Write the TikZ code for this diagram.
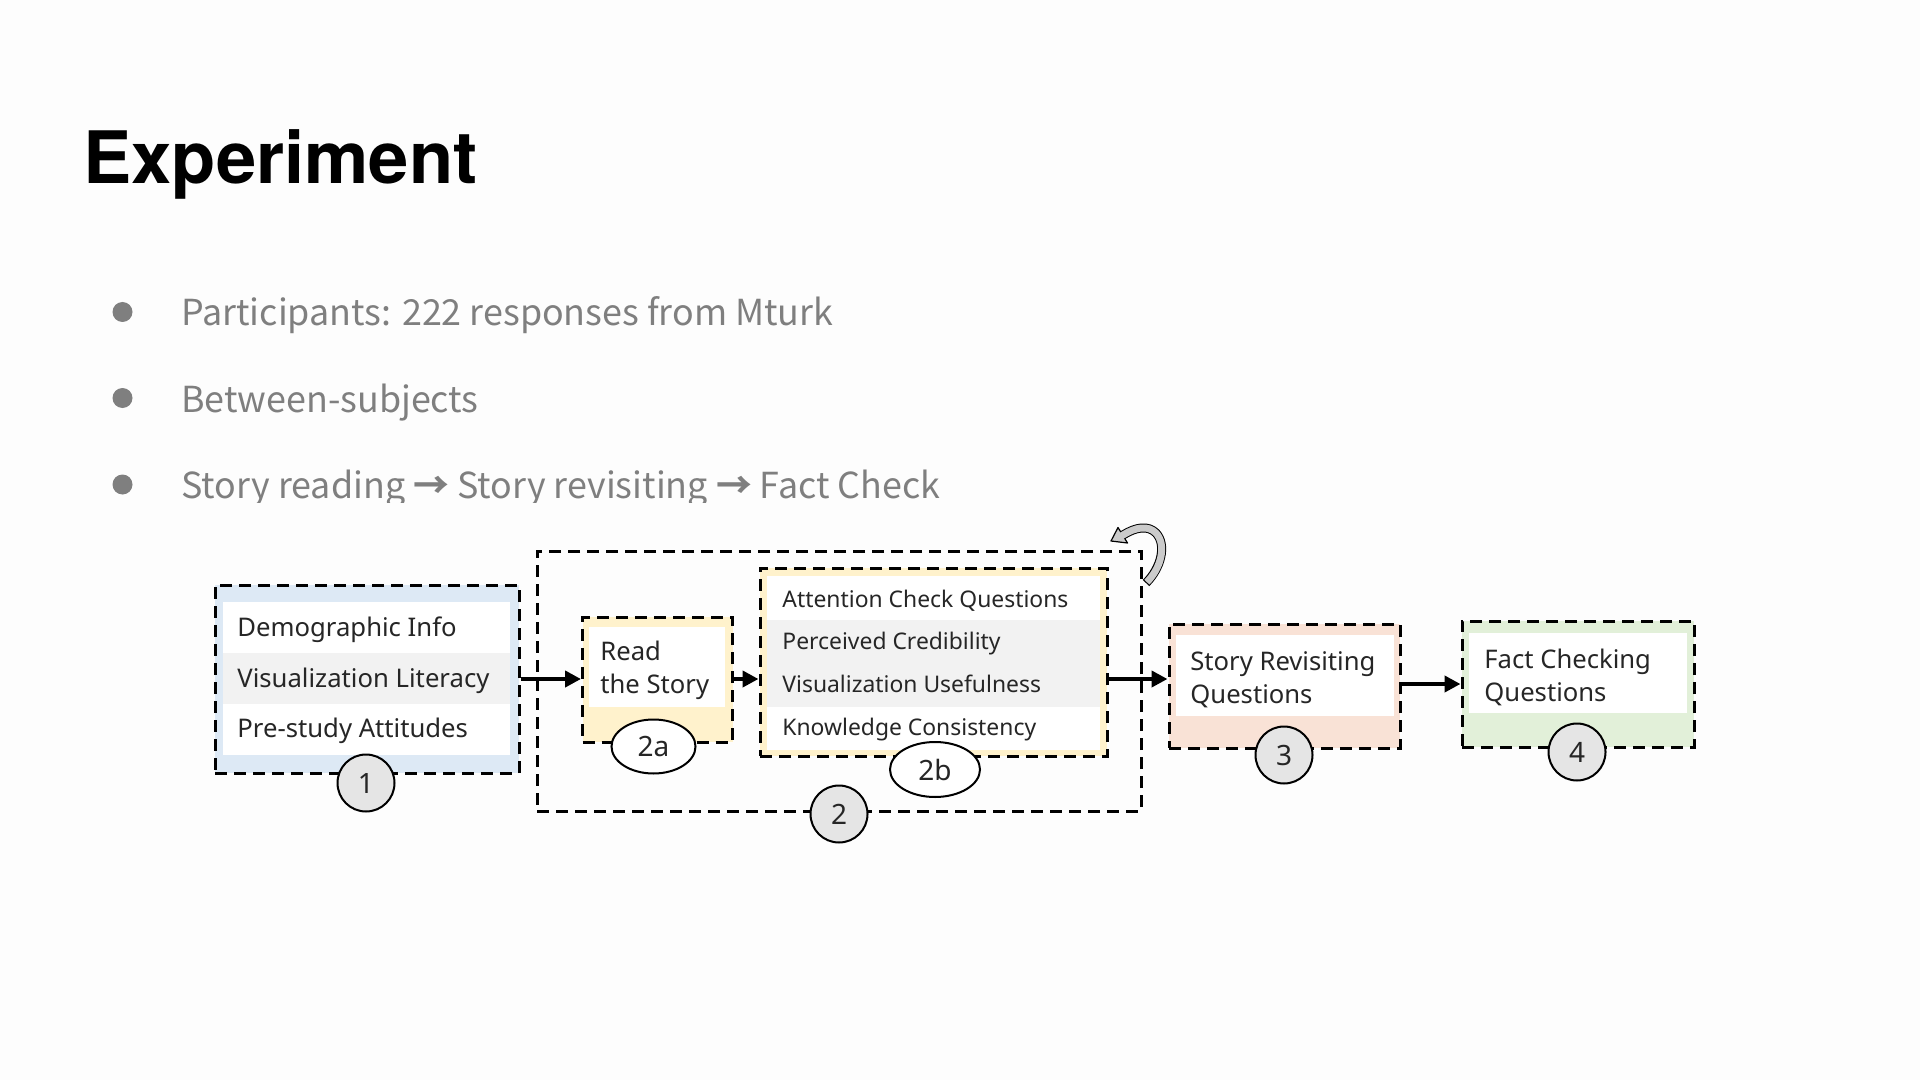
\documentclass[tikz,border=0pt]{standalone}
\usepackage{fontspec}
\usetikzlibrary{arrows.meta,shapes.geometric,calc}
\newfontfamily\titlefont{TeX Gyre Heros}
\newfontfamily\bulletfont{Noto Sans CJK SC}
\newfontfamily\diagfont{Noto Sans}
\newdimen\calw
\newcommand\calsize[4]{\settowidth\calw{#2\fontsize{10pt}{12pt}\selectfont #4}\xdef#1{\the\dimexpr 10pt*\number\dimexpr#3\relax/\number\calw\relax}}
\AtBeginDocument{%
\calsize{\fsT}{\titlefont\bfseries}{197pt}{Experiment}%
\calsize{\fsP}{\bulletfont}{326pt}{Participants: 222 responses from Mturk}%
\calsize{\fsA}{\diagfont}{126pt}{Visualization Literacy}%
\calsize{\fsB}{\diagfont}{143pt}{Attention Check Questions}%
\calsize{\fsC}{\diagfont}{92.5pt}{Story Revisiting}%
}
\newcommand\dfA{\diagfont\fontsize{\fsA}{16.5pt}\selectfont}
\newcommand\dfB{\diagfont\fontsize{\fsB}{16.5pt}\selectfont}
\newcommand\dfC{\diagfont\fontsize{\fsC}{16.5pt}\selectfont}
\newcommand\dfN{\diagfont\fontsize{14pt}{14pt}\selectfont}
\newcommand\barrow{{\bfseries →}}
\definecolor{bgc}{HTML}{FDFDFD}
\definecolor{bulletgray}{HTML}{7F7F7F}
\definecolor{txtgray}{HTML}{262626}
\definecolor{blueA}{HTML}{DDE9F5}
\definecolor{yellowA}{HTML}{FFF2CC}
\definecolor{orangeA}{HTML}{F9E2D6}
\definecolor{greenA}{HTML}{E2F0D9}
\definecolor{rowgray}{HTML}{F2F2F2}
\definecolor{numgray}{HTML}{E5E5E5}
\definecolor{loopgray}{HTML}{CBCBCB}
\tikzset{
  dbox/.style={rectangle, draw=black, line width=1.5pt, dash pattern=on 6pt off 3.5pt, inner sep=0pt},
  plain/.style={rectangle, inner sep=0pt, draw=none},
  lbl/.style={anchor=base west, inner sep=0pt, text=txtgray, align=left},
  num/.style={circle, draw=black, line width=1pt, fill=numgray, inner sep=0pt, minimum size=28.5pt, font=\dfN, text=txtgray},
  oval/.style={ellipse, draw=black, line width=1pt, fill=white, inner sep=0pt, font=\dfN, text=txtgray},
  arr/.style={draw=black, line width=2pt, -{Triangle[length=8pt,width=8pt]}},
  bdot/.style={circle, fill=bulletgray, inner sep=0pt, minimum size=10pt},
  btext/.style={anchor=base west, inner sep=0pt, text=bulletgray, font=\bulletfont\fontsize{\fsP}{\fsP}\selectfont},
}
\begin{document}
\begin{tikzpicture}[x=0.5pt,y=-0.5pt]
\useasboundingbox (0,0) rectangle (1920,1080);
\fill[bgc] (0,0) rectangle (1920,1080);
% title
\node[anchor=base west, inner sep=0pt, font=\titlefont\bfseries\fontsize{\fsT}{\fsT}\selectfont] (title) at (83,184) {Experiment};
% bullets
\node[bdot] (d1) at (122.5,312) {};
\node[btext] (t1) at (181,326) {Participants: 222 responses from Mturk};
\node[bdot] (d2) at (122.5,398) {};
\node[btext] (t2) at (181,412) {Between-subjects};
\node[bdot] (d3) at (122.5,484.5) {};
\node[btext] (t3) at (181,498) {Story reading \barrow{} Story revisiting \barrow{} Fact Check};
% diagram backdrop (cuts the last bullet line as in the slide)
\fill[bgc] (150,503) rectangle (1760,860);
% stage 2 frame
\node[dbox, minimum width=302pt, minimum height=130pt] (b2) at (839,681) {};
% stage 1
\node[dbox, fill=blueA, minimum width=152pt, minimum height=94pt] (b1) at (367,679) {};
\node[plain, fill=white, minimum width=143.5pt, minimum height=25.5pt] (b1r1) at (366.5,627.5) {};
\node[plain, fill=rowgray, minimum width=143.5pt, minimum height=25.5pt] (b1r2) at (366.5,678.5) {};
\node[plain, fill=white, minimum width=143.5pt, minimum height=25.5pt] (b1r3) at (366.5,729.5) {};
\node[lbl, font=\dfA] (b1t1) at (237,636.5) {Demographic Info};
\node[lbl, font=\dfA] (b1t2) at (237,687.5) {Visualization Literacy};
\node[lbl, font=\dfA] (b1t3) at (237,737.5) {Pre-study Attitudes};
% stage 2a
\node[dbox, fill=yellowA, minimum width=75pt, minimum height=62.5pt] (b2a) at (657.5,679.5) {};
\node[plain, fill=white, minimum width=68pt, minimum height=40pt] (b2ai) at (657,667) {};
\node[lbl, font=\dfC] (b2at) at (600,693) {Read\\the Story};
% stage 2b
\node[dbox, fill=yellowA, minimum width=173.5pt, minimum height=94pt] (b2b) at (933.5,662) {};
\node[plain, fill=white, minimum width=166.5pt, minimum height=21.75pt] (b2br1) at (933.5,597.75) {};
\node[plain, fill=rowgray, minimum width=166.5pt, minimum height=21.75pt] (b2br2) at (933.5,641.25) {};
\node[plain, fill=rowgray, minimum width=166.5pt, minimum height=21.75pt] (b2br3) at (933.5,684.75) {};
\node[plain, fill=white, minimum width=166.5pt, minimum height=21.75pt] (b2br4) at (933.5,728.25) {};
\node[lbl, font=\dfB] (b2bt1) at (782,607) {Attention Check Questions};
\node[lbl, font=\dfB] (b2bt2) at (782,649.5) {Perceived Credibility};
\node[lbl, font=\dfB] (b2bt3) at (782,692) {Visualization Usefulness};
\node[lbl, font=\dfB] (b2bt4) at (782,735) {Knowledge Consistency};
% stage 3
\node[dbox, fill=orangeA, minimum width=115.5pt, minimum height=62pt] (b3) at (1284.5,686) {};
\node[plain, fill=white, minimum width=109pt, minimum height=40.5pt] (b3i) at (1285,675.5) {};
\node[lbl, font=\dfC] (b3t) at (1190,703) {Story Revisiting\\Questions};
% stage 4
\node[dbox, fill=greenA, minimum width=116pt, minimum height=63pt] (b4) at (1578,684) {};
\node[plain, fill=white, minimum width=109pt, minimum height=40pt] (b4i) at (1578,673) {};
\node[lbl, font=\dfC] (b4t) at (1484,701) {Fact Checking\\Questions};
% markers
\node[num] (n1) at (366,783) {1};
\node[num] (n2) at (839,814) {2};
\node[num] (n3) at (1284,755) {3};
\node[num] (n4) at (1577,752) {4};
\node[oval, minimum width=42pt, minimum height=27pt] (e2a) at (653.5,746.5) {2a};
\node[oval, minimum width=45pt, minimum height=27.5pt] (e2b) at (935,769.5) {2b};
% connectors
\draw[arr] (b1.east) -- (b1.east -| b2a.west);
\draw[arr] (b2a.east |- b1.east) -- (b2b.west |- b1.east);
\draw[arr] (b2b.east |- b1.east) -- (b3.west |- b1.east);
\draw[arr] (b3.east |- b4.west) -- (b4.west);
% repeat (loop) arrow
\coordinate (lp0) at (1146,583);
\coordinate (lp1) at (1156,533);
\coordinate (lp2) at (1123,535);
\coordinate (lptip) at (1111,541);
\coordinate (lpb1) at (1118,527.5);
\coordinate (lpb2) at (1127.5,543);
\draw[black, line width=4.5pt] (lp0) .. controls (1161,568) and (1167,545) .. (lp1) .. controls (1148,525) and (1136,527) .. (lp2);
\filldraw[fill=loopgray, draw=black, line width=0.6pt, line join=round] (lpb1) -- (lptip) -- (lpb2) -- cycle;
\draw[loopgray, line width=3.5pt, shorten <=0.6pt] (lp0) .. controls (1161,568) and (1167,545) .. (lp1) .. controls (1148,525) and (1136,527) .. (lp2) -- ++(-1.5,0.9);
\end{tikzpicture}
\end{document}
